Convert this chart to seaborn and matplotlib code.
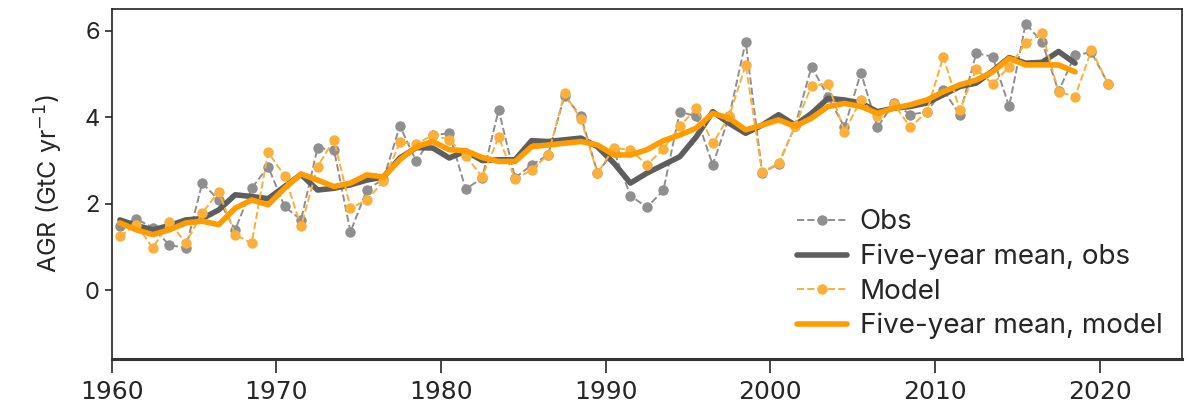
import numpy as np
import pandas as pd
import matplotlib
matplotlib.use("Agg")
import matplotlib.pyplot as plt
import seaborn as sns

years = np.arange(1960, 2021)
mean_years = np.arange(1960, 2019)

obs = [1.49, 1.65, 1.45, 1.05, 0.98, 2.48, 2.09, 1.40, 2.36, 2.86,
       1.94, 1.63, 3.29, 3.25, 1.35, 2.33, 2.57, 3.80, 2.98, 3.59,
       3.63, 2.34, 2.60, 4.17, 2.60, 2.90, 3.13, 4.50, 4.02, 2.72,
       3.22, 2.19, 1.92, 2.31, 4.13, 4.02, 2.90, 4.02, 5.75, 2.72,
       2.92, 3.80, 5.17, 4.48, 3.77, 5.03, 3.77, 4.33, 4.06, 4.13,
       4.63, 4.06, 5.48, 5.40, 4.25, 6.16, 5.74, 4.60, 5.44, 5.50,
       4.78]

model = [1.25, 1.52, 0.98, 1.59, 1.09, 1.79, 2.28, 1.29, 1.09, 3.19,
         2.65, 1.48, 2.86, 3.48, 1.90, 2.09, 2.52, 3.42, 3.38, 3.59,
         3.48, 3.10, 2.63, 3.54, 2.57, 2.79, 3.13, 4.55, 3.95, 2.71,
         3.29, 3.25, 2.90, 3.27, 3.79, 4.21, 3.40, 4.02, 5.21, 2.73,
         2.94, 3.79, 4.73, 4.77, 3.67, 4.40, 4.02, 4.30, 3.77, 4.13,
         5.40, 4.17, 5.11, 4.77, 5.17, 5.71, 5.94, 4.59, 4.48, 5.55,
         4.78]

obs_mean = [1.63, 1.50, 1.40, 1.50, 1.63, 1.66, 1.86, 2.21, 2.17, 2.12,
            2.40, 2.68, 2.32, 2.36, 2.44, 2.55, 2.62, 3.06, 3.30, 3.29,
            3.06, 3.22, 3.00, 3.02, 3.02, 3.46, 3.44, 3.48, 3.52, 3.32,
            2.94, 2.48, 2.71, 2.90, 3.09, 3.55, 4.13, 3.86, 3.63, 3.82,
            4.06, 3.82, 4.09, 4.44, 4.40, 4.33, 4.13, 4.21, 4.25, 4.33,
            4.52, 4.71, 4.79, 5.07, 5.38, 5.25, 5.27, 5.52, 5.25]

model_mean = [1.56, 1.40, 1.29, 1.40, 1.56, 1.60, 1.52, 1.90, 2.09, 1.98,
              2.36, 2.69, 2.55, 2.40, 2.48, 2.67, 2.62, 3.02, 3.32, 3.44,
              3.25, 3.23, 3.07, 2.98, 2.98, 3.32, 3.36, 3.40, 3.44, 3.36,
              3.13, 3.13, 3.25, 3.46, 3.59, 3.75, 4.09, 3.98, 3.71, 3.82,
              3.94, 3.79, 3.98, 4.25, 4.32, 4.25, 4.09, 4.21, 4.29, 4.40,
              4.59, 4.75, 4.86, 5.05, 5.36, 5.21, 5.21, 5.21, 5.05]

# values are annual, drawn at mid-year
yearly = pd.DataFrame({"year": years + 0.5, "obs": obs, "model": model})
means = pd.DataFrame({"year": mean_years + 0.5, "obs": obs_mean, "model": model_mean})

sns.set_style("ticks")
plt.rcParams['font.family'] = ['Inter', 'DejaVu Sans']

fig = plt.figure(figsize=(11.88, 4.12), dpi=100)
ax = fig.add_axes([0.094, 0.129, 0.901, 0.849])

sns.lineplot(data=yearly, x="year", y="obs", ax=ax, color="#8f8f8f", linestyle="--",
             linewidth=1.4, marker="o", markersize=7.5, markeredgewidth=0, label="Obs")
sns.lineplot(data=means, x="year", y="obs", ax=ax, color="#5e5e5e", linewidth=4,
             label="Five-year mean, obs")
sns.lineplot(data=yearly, x="year", y="model", ax=ax, color="#fbb03b", linestyle="--",
             linewidth=1.4, marker="o", markersize=7.5, markeredgewidth=0, label="Model")
sns.lineplot(data=means, x="year", y="model", ax=ax, color="#ff9c00", linewidth=4,
             label="Five-year mean, model")

ax.set_xlim(1960, 2025)
ax.set_ylim(-1.58, 6.5)
ax.set_xticks([1960, 1970, 1980, 1990, 2000, 2010, 2020])
ax.set_yticks([0, 2, 4, 6])
ax.tick_params(axis='x', labelsize=18, length=10, width=1.2, direction='out', pad=5)
ax.tick_params(axis='y', labelsize=17, length=5, width=1.2, direction='out')
for lbl in ax.get_xticklabels():
    lbl.set_fontfamily('DejaVu Sans')
ax.set_xlabel("")
ax.set_ylabel("AGR (GtC yr$^{-1}$)", fontsize=18, labelpad=14)
for side in ["top", "right", "left"]:
    ax.spines[side].set_linewidth(1.2)
    ax.spines[side].set_color("#222222")
ax.spines["bottom"].set_linewidth(2.2)
ax.spines["bottom"].set_color("#333333")

ax.legend(loc="lower right", frameon=False, fontsize=20, handlelength=1.8,
          labelspacing=0.3, borderaxespad=0.3, handletextpad=0.45)

fig.savefig("out.png", dpi=100)
